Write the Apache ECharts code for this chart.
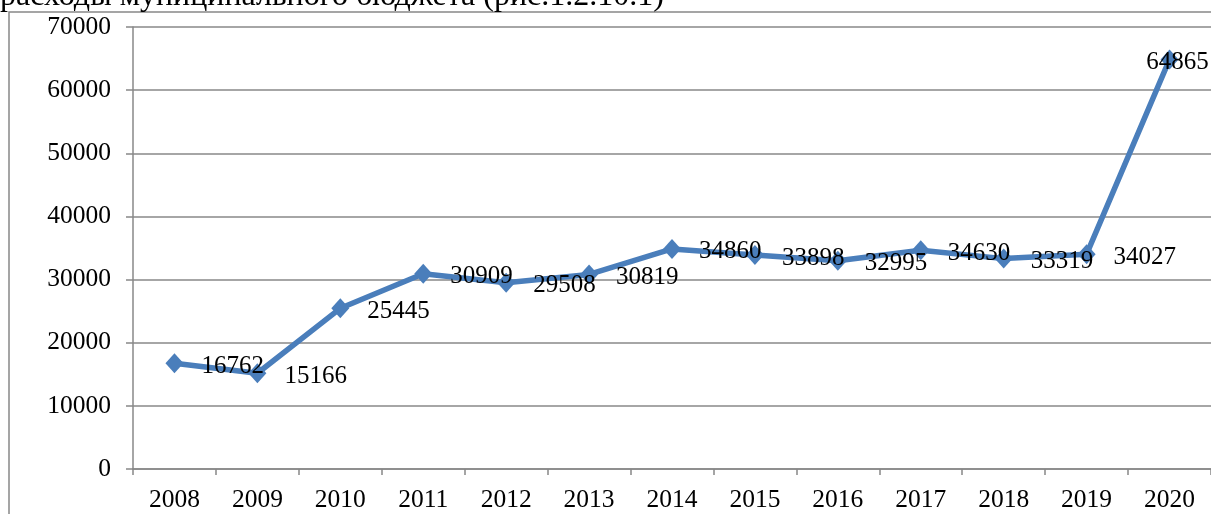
<!DOCTYPE html>
<html>
<head>
<meta charset="utf-8">
<script src="https://cdn.jsdelivr.net/npm/echarts@6/dist/echarts.min.js"></script>
<style>
  html, body { margin: 0; padding: 0; background: #fff; }
  #chart { width: 1211px; height: 514px; }
</style>
</head>
<body>
<div id="chart"></div>
<script>
// данные графика
var years = ['2008','2009','2010','2011','2012','2013','2014','2015','2016','2017','2018','2019','2020'];
var values = [16762, 15166, 25445, 30909, 29508, 30819, 34860, 33898, 32995, 34630, 33319, 34027, 64865];
var yTicks = [0, 10000, 20000, 30000, 40000, 50000, 60000, 70000];
var caption = 'расходы муниципального бюджета (рис.1.2.10.1)';

var font = 'Liberation Serif, Times New Roman, serif';
var chart = echarts.init(document.getElementById('chart'));

var seriesData = values.map(function (v, i) {
  if (i === values.length - 1) {
    return { value: v, label: { position: 'inside', offset: [8, 3] } };
  }
  return v;
});

var option = {
  animation: false,
  grid: { left: 133, right: 0, top: 27, bottom: 45 },
  graphic: [
    {
      type: 'rect',
      shape: { x: 9, y: 12, width: 1230, height: 540 },
      style: { fill: 'none', stroke: '#888', lineWidth: 1.5 },
      silent: true
    },
    {
      type: 'text',
      left: 0,
      top: -19,
      style: { text: caption, fontFamily: font, fontSize: 32, fill: '#000' }
    }
  ],
  xAxis: {
    type: 'category',
    data: years,
    boundaryGap: true,
    axisLine: { lineStyle: { color: '#888', width: 1.5 } },
    axisTick: { show: true, length: 6, lineStyle: { color: '#888', width: 1.5 } },
    axisLabel: { color: '#000', fontFamily: font, fontSize: 25.5, margin: 18, interval: 0 }
  },
  yAxis: {
    type: 'value',
    min: yTicks[0],
    max: yTicks[yTicks.length - 1],
    interval: 10000,
    axisLine: { show: true, lineStyle: { color: '#888', width: 1.5 } },
    axisTick: { show: true, length: 7, lineStyle: { color: '#888', width: 1.5 } },
    axisLabel: {
      color: '#000', fontFamily: font, fontSize: 25.5, margin: 22,
      formatter: function (v) { return String(v); }
    },
    splitLine: { lineStyle: { color: '#888', width: 1.5 } }
  },
  series: [{
    type: 'line',
    data: seriesData,
    symbol: 'diamond',
    symbolSize: [18, 20],
    lineStyle: { color: '#4a7ebb', width: 5.5 },
    itemStyle: { color: '#4a7ebb' },
    label: {
      show: true,
      position: 'right',
      distance: 18,
      offset: [0, 3],
      color: '#000',
      fontFamily: font,
      fontSize: 25
    }
  }]
};

chart.setOption(option);
window.addEventListener('resize', function () { chart.resize(); });
</script>
</body>
</html>
